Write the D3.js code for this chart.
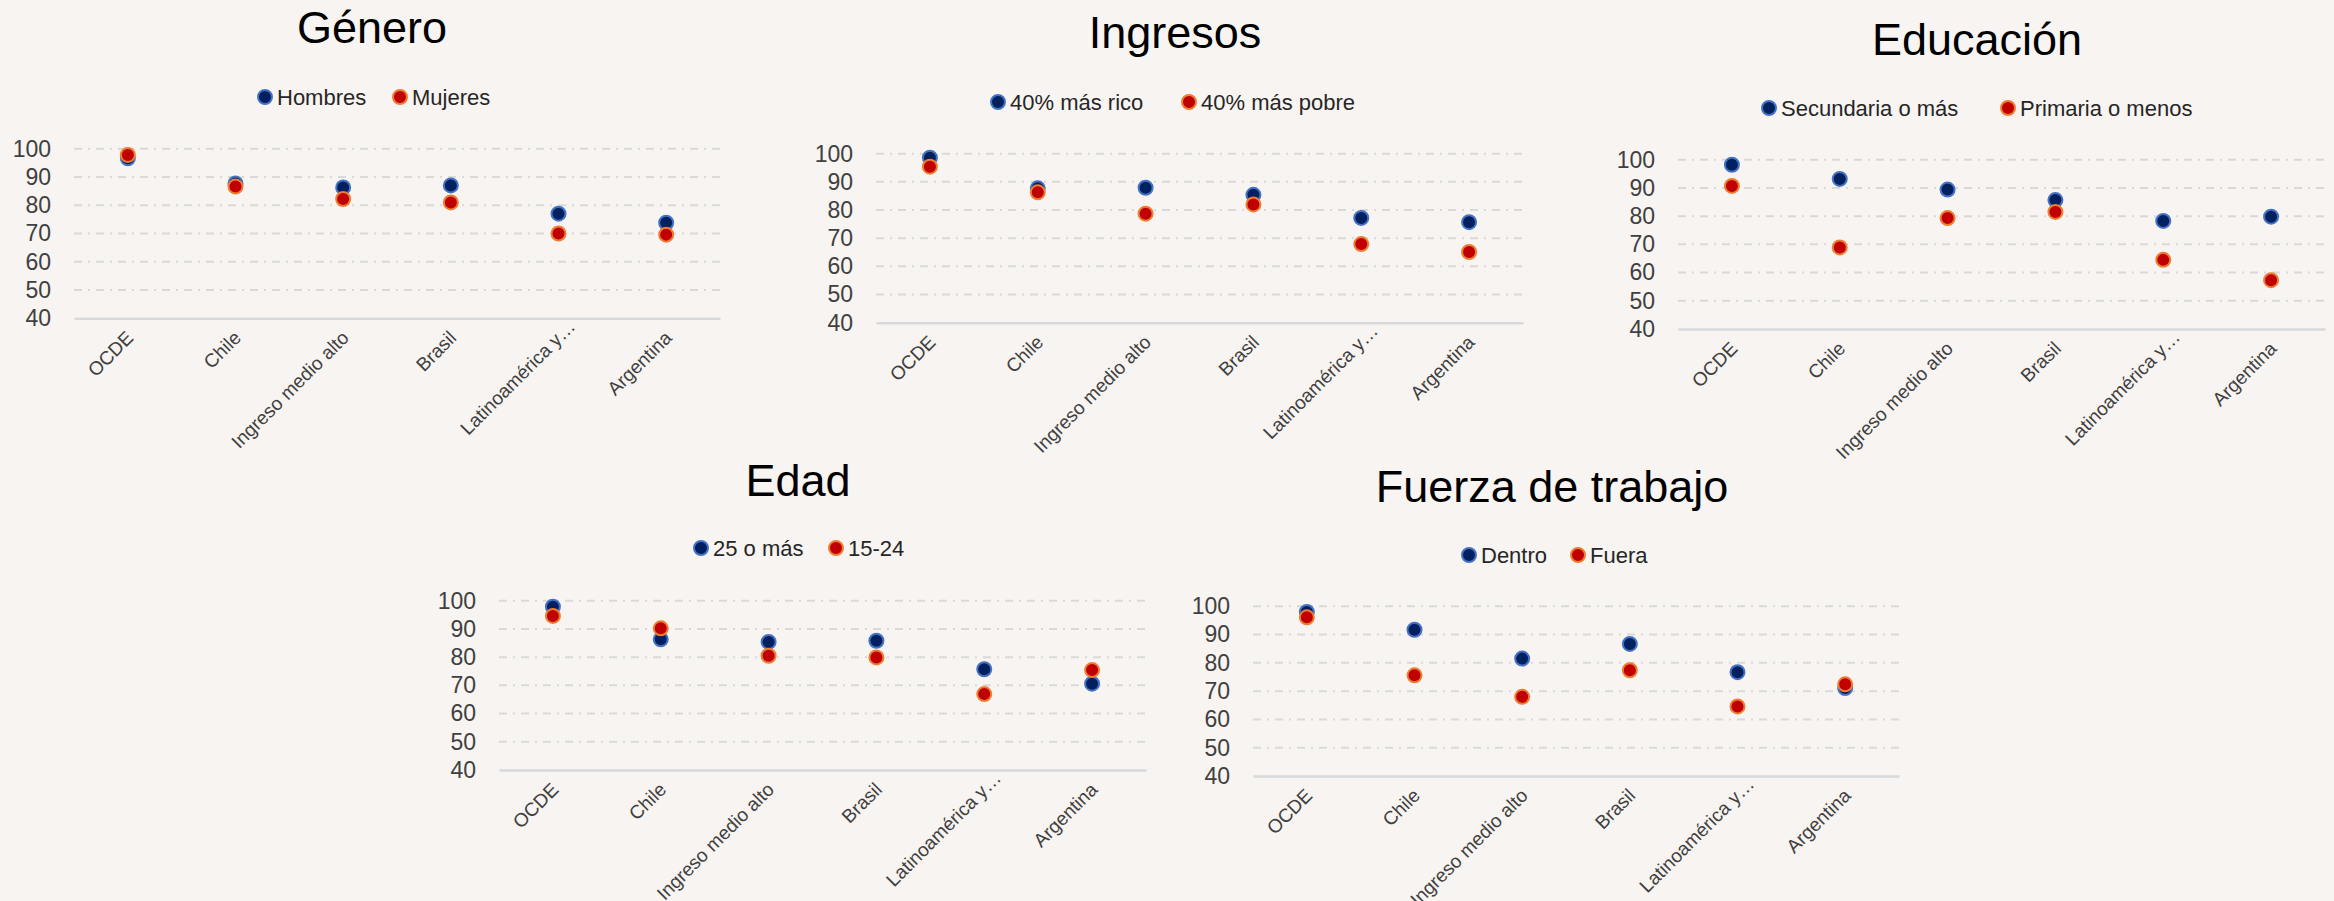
<!DOCTYPE html>
<html>
<head>
<meta charset="utf-8">
<script src="https://cdn.jsdelivr.net/npm/d3@7"></script>
<style>
  html, body { margin: 0; padding: 0; background: #f7f4f1; }
  svg { display: block; font-family: "Liberation Sans", Arial, sans-serif; }
  .title { fill: #000; font-size: 45px; }
  .legend text { fill: #262626; font-size: 22px; }
  .y-axis text { fill: #404040; font-size: 23px; }
  .x-axis text { fill: #404040; font-size: 19px; }
</style>
</head>
<body>
<svg id="chart" width="2334" height="901"></svg>
<script>
// categories and ticks shared by all five panels
const categories = ["OCDE", "Chile", "Ingreso medio alto", "Brasil", "Latinoamérica y…", "Argentina"];
const yTicks = [40, 50, 60, 70, 80, 90, 100];

// Género
const hombres = [96.6, 87.7, 86.3, 87.0, 77.0, 73.8];
const mujeres = [97.8, 86.6, 82.2, 81.0, 70.0, 69.6];
// Ingresos
const masRico = [98.6, 87.7, 87.9, 85.4, 77.2, 75.7];
const masPobre = [95.4, 86.3, 78.7, 82.0, 67.9, 65.1];
// Educación
const secundaria = [98.2, 93.2, 89.4, 85.7, 78.3, 79.8];
const primaria = [90.7, 68.9, 79.3, 81.5, 64.5, 57.3];
// Edad
const mayores25 = [97.9, 86.3, 85.4, 85.8, 75.7, 70.6];
const jovenes = [94.6, 90.2, 80.5, 79.9, 66.9, 75.4];
// Fuerza de trabajo
const dentro = [98.0, 91.7, 81.5, 86.7, 76.7, 71.1];
const fuera = [96.1, 75.6, 68.0, 77.4, 64.6, 72.4];

const blue = { fill: "#002060", stroke: "#4472c4" };
const red = { fill: "#c00000", stroke: "#ed7d31" };

// layout of each panel (pixel positions only)
const panels = [
  { title: "Género", tx: 372, ty: 43, ly: 97, left: 74, right: 720, top: 148.7, bottom: 318.3,
    series: [{ name: "Hombres", values: hombres, c: blue, lx: 265 }, { name: "Mujeres", values: mujeres, c: red, lx: 400 }] },
  { title: "Ingresos", tx: 1175, ty: 48, ly: 102, left: 876, right: 1523, top: 153.7, bottom: 322.7,
    series: [{ name: "40% más rico", values: masRico, c: blue, lx: 998 }, { name: "40% más pobre", values: masPobre, c: red, lx: 1189 }] },
  { title: "Educación", tx: 1977, ty: 55, ly: 108, left: 1678, right: 2325, top: 159.7, bottom: 329,
    series: [{ name: "Secundaria o más", values: secundaria, c: blue, lx: 1769 }, { name: "Primaria o menos", values: primaria, c: red, lx: 2008 }] },
  { title: "Edad", tx: 798, ty: 496, ly: 548, left: 499, right: 1146, top: 600.7, bottom: 770,
    series: [{ name: "25 o más", values: mayores25, c: blue, lx: 701 }, { name: "15-24", values: jovenes, c: red, lx: 836 }] },
  { title: "Fuerza de trabajo", tx: 1552, ty: 502, ly: 555, left: 1253, right: 1899, top: 606.3, bottom: 776,
    series: [{ name: "Dentro", values: dentro, c: blue, lx: 1469 }, { name: "Fuera", values: fuera, c: red, lx: 1578 }] }
];

const svg = d3.select("#chart");

panels.forEach(p => {
  const g = svg.append("g");

  const x = d3.scaleBand().domain(categories).range([p.left, p.right]);
  const y = d3.scaleLinear().domain([40, 100]).range([p.bottom, p.top]);

  g.append("text").attr("class", "title")
    .attr("x", p.tx).attr("y", p.ty)
    .attr("text-anchor", "middle")
    .text(p.title);

  // legend
  const lg = g.append("g").attr("class", "legend");
  p.series.forEach(s => {
    lg.append("circle")
      .attr("cx", s.lx).attr("cy", p.ly).attr("r", 7)
      .attr("fill", s.c.fill).attr("stroke", s.c.stroke).attr("stroke-width", 2);
    lg.append("text")
      .attr("x", s.lx + 12).attr("y", p.ly).attr("dy", "0.35em")
      .text(s.name);
  });

  // gridlines (dash-dot)
  g.append("g")
    .selectAll("line")
    .data(yTicks.filter(t => t > 40))
    .join("line")
    .attr("x1", p.left).attr("x2", p.right)
    .attr("y1", d => y(d)).attr("y2", d => y(d))
    .attr("stroke", "#d9d9d9")
    .attr("stroke-width", 2)
    .attr("stroke-dasharray", "8,6,2,6");

  // y axis
  const gy = g.append("g").attr("class", "y-axis")
    .attr("transform", `translate(${p.left},0)`)
    .call(d3.axisLeft(y).tickValues(yTicks).tickSize(0).tickPadding(23));
  gy.select(".domain").remove();
  gy.selectAll("text").attr("font-family", null).attr("font-size", null);

  // x axis
  const gx = g.append("g").attr("class", "x-axis")
    .attr("transform", `translate(0,${p.bottom})`)
    .call(d3.axisBottom(x).tickSize(0));
  gx.select(".domain")
    .attr("stroke", "#d9d9d9").attr("stroke-width", 2.5);
  gx.selectAll("text")
    .attr("font-family", null).attr("font-size", null)
    .attr("text-anchor", "end")
    .attr("x", d => d.endsWith("…") ? 16 : 0)
    .attr("y", 0).attr("dy", "0.35em")
    .attr("transform", "translate(2,16) rotate(-45)");

  // markers
  p.series.forEach(s => {
    g.append("g")
      .selectAll("circle")
      .data(s.values)
      .join("circle")
      .attr("cx", (d, i) => x(categories[i]) + x.bandwidth() / 2)
      .attr("cy", d => y(d))
      .attr("r", 7)
      .attr("fill", s.c.fill)
      .attr("stroke", s.c.stroke)
      .attr("stroke-width", 2);
  });
});
</script>
</body>
</html>
